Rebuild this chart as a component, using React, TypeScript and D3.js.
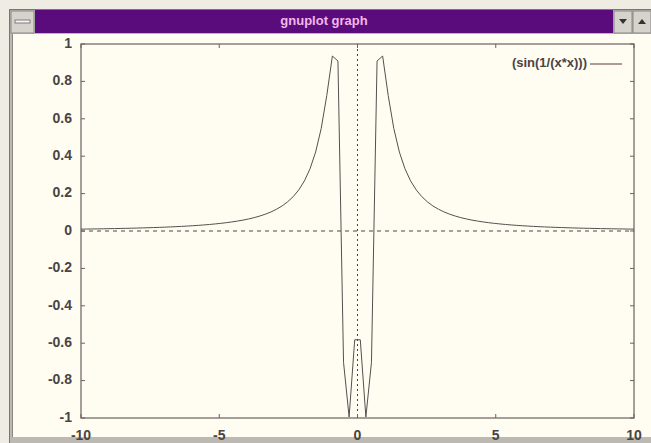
import React from "react";
import * as d3 from "d3";

const W = 651;
const H = 443;

// sampled points of sin(1/(x*x)), 100 samples on [-10, 10]
const xValues: number[] = [
  -10, -9.798, -9.596, -9.394, -9.192, -8.99, -8.788, -8.586, -8.384, -8.182,
  -7.98, -7.778, -7.576, -7.374, -7.172, -6.97, -6.768, -6.566, -6.364, -6.162,
  -5.96, -5.758, -5.556, -5.354, -5.152, -4.949, -4.747, -4.545, -4.343, -4.141,
  -3.939, -3.737, -3.535, -3.333, -3.131, -2.929, -2.727, -2.525, -2.323, -2.121,
  -1.919, -1.717, -1.515, -1.313, -1.111, -0.909, -0.707, -0.505, -0.303, -0.101,
  0.101, 0.303, 0.505, 0.707, 0.909, 1.111, 1.313, 1.515, 1.717, 1.919,
  2.121, 2.323, 2.525, 2.727, 2.929, 3.131, 3.333, 3.535, 3.737, 3.939,
  4.141, 4.343, 4.545, 4.747, 4.949, 5.152, 5.354, 5.556, 5.758, 5.96,
  6.162, 6.364, 6.566, 6.768, 6.97, 7.172, 7.374, 7.576, 7.778, 7.98,
  8.182, 8.384, 8.586, 8.788, 8.99, 9.192, 9.394, 9.596, 9.798, 10,
];
const yValues: number[] = [
  0.01, 0.0104, 0.0109, 0.0113, 0.0118, 0.0124, 0.0129, 0.0136, 0.0142, 0.0149,
  0.0157, 0.0165, 0.0174, 0.0184, 0.0194, 0.0206, 0.0218, 0.0232, 0.0247, 0.0263,
  0.0282, 0.0302, 0.0324, 0.0349, 0.0377, 0.0408, 0.0444, 0.0484, 0.053, 0.0583,
  0.0644, 0.0715, 0.0799, 0.0899, 0.1018, 0.1163, 0.134, 0.1562, 0.1842, 0.2204,
  0.2682, 0.3327, 0.422, 0.548, 0.7243, 0.9356, 0.9092, -0.7024, -0.9944, -0.5816,
  -0.5816, -0.9944, -0.7024, 0.9092, 0.9356, 0.7243, 0.548, 0.422, 0.3327, 0.2682,
  0.2204, 0.1842, 0.1562, 0.134, 0.1163, 0.1018, 0.0899, 0.0799, 0.0715, 0.0644,
  0.0583, 0.053, 0.0484, 0.0444, 0.0408, 0.0377, 0.0349, 0.0324, 0.0302, 0.0282,
  0.0263, 0.0247, 0.0232, 0.0218, 0.0206, 0.0194, 0.0184, 0.0174, 0.0165, 0.0157,
  0.0149, 0.0142, 0.0136, 0.0129, 0.0124, 0.0118, 0.0113, 0.0109, 0.0104, 0.01,
];

const xTicks: number[] = [-10, -5, 0, 5, 10];
const yTicks: number[] = [-1, -0.8, -0.6, -0.4, -0.2, 0, 0.2, 0.4, 0.6, 0.8, 1];
const windowTitle = "gnuplot graph";
const legendLabel = "(sin(1/(x*x)))";

const left = 81;
const right = 634;
const top = 44;
const bottom = 418;

const FONT = "'Liberation Sans Narrow', 'Liberation Sans', Arial, sans-serif";
const INK = "#4a4444";
const BORDER = "#6a6060";

export default function App() {
  const x = d3.scaleLinear().domain([-10, 10]).range([left, right]);
  const y = d3.scaleLinear().domain([-1, 1]).range([bottom, top]);
  const pts: [number, number][] = xValues.map((v, i) => [v, yValues[i]]);
  const line = d3
    .line<[number, number]>()
    .x((d) => x(d[0]))
    .y((d) => y(d[1]));

  const yFmt = (v: number) => String(+v.toFixed(1));

  return (
    <svg
      width={W}
      height={H}
      style={{ position: "absolute", left: 0, top: 0, display: "block" }}
    >
      {/* outside + window frame */}
      <rect x={0} y={0} width={W} height={H} fill="#efece4" />
      <rect x={9} y={9} width={W - 9} height={H - 9} fill="#bcb8b2" />
      <line x1={9.5} y1={9} x2={9.5} y2={H} stroke="#777" />
      <line x1={9} y1={9.5} x2={W} y2={9.5} stroke="#777" />
      {/* system menu box */}
      <rect x={11} y={11} width={23} height={22} fill="#d6d3cc" stroke="#888" />
      <rect x={15} y={20} width={15} height={3} fill="#f4f2ee" stroke="#666" strokeWidth={0.8} />
      {/* title bar */}
      <rect x={35} y={10} width={578} height={23} fill="#5b0c7c" />
      <text
        x={324}
        y={22}
        textAnchor="middle"
        dominantBaseline="middle"
        fill="#f0b8ec"
        fontFamily={FONT}
        fontWeight="bold"
        fontSize={13}
      >
        {windowTitle}
      </text>
      {/* min / max buttons */}
      <rect x={614} y={11} width={18} height={22} fill="#d6d3cc" stroke="#888" />
      <rect x={633} y={11} width={18} height={22} fill="#d6d3cc" stroke="#888" />
      <path d="M619,19 L627,19 L623,24 Z" fill="#333" />
      <path d="M638,24 L646,24 L642,19 Z" fill="#333" />
      {/* client area */}
      <rect x={13} y={34} width={W - 13} height={403} fill="#fffdf1" />
      <line x1={12.5} y1={34} x2={12.5} y2={437} stroke="#8a8680" />

      {/* zero axes */}
      <line
        x1={left}
        x2={right}
        y1={y(0)}
        y2={y(0)}
        stroke={INK}
        strokeWidth={1}
        strokeDasharray="4,4"
      />
      <line
        x1={x(0)}
        x2={x(0)}
        y1={top}
        y2={bottom}
        stroke={INK}
        strokeWidth={1}
        strokeDasharray="2,3"
      />

      {/* ticks */}
      {yTicks.map((t) => (
        <g key={"yt" + t}>
          <line x1={left} x2={left + 4} y1={y(t)} y2={y(t)} stroke={BORDER} />
          <line x1={right - 4} x2={right} y1={y(t)} y2={y(t)} stroke={BORDER} />
          <text
            x={72}
            y={y(t)}
            textAnchor="end"
            dominantBaseline="middle"
            fill={INK}
            fontFamily={FONT}
            fontWeight="bold"
            fontSize={14}
          >
            {yFmt(t)}
          </text>
        </g>
      ))}
      {xTicks.map((t) => (
        <g key={"xt" + t}>
          <line x1={x(t)} x2={x(t)} y1={bottom} y2={bottom - 4} stroke={BORDER} />
          <line x1={x(t)} x2={x(t)} y1={top} y2={top + 4} stroke={BORDER} />
          <text
            x={x(t)}
            y={440}
            textAnchor="middle"
            fill={INK}
            fontFamily={FONT}
            fontWeight="bold"
            fontSize={14}
          >
            {String(t)}
          </text>
        </g>
      ))}

      {/* border */}
      <rect
        x={left}
        y={top}
        width={right - left}
        height={bottom - top}
        fill="none"
        stroke={BORDER}
        strokeWidth={1.2}
      />

      {/* curve */}
      <path d={line(pts) || ""} fill="none" stroke="#555050" strokeWidth={1} />

      {/* legend */}
      <text
        x={587}
        y={64}
        textAnchor="end"
        dominantBaseline="middle"
        fill={INK}
        fontFamily={FONT}
        fontWeight="bold"
        fontSize={13}
      >
        {legendLabel}
      </text>
      <line x1={590} x2={622} y1={64} y2={64} stroke="#7a5a5a" strokeWidth={1.2} />
    </svg>
  );
}
